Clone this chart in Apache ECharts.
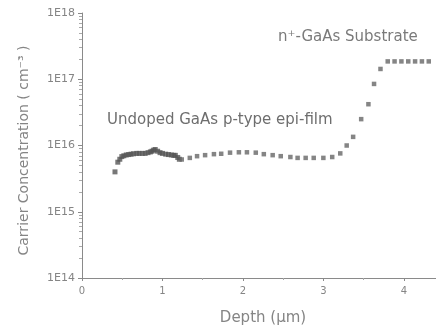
<!DOCTYPE html>
<html>
<head>
<meta charset="utf-8">
<script src="https://cdn.jsdelivr.net/npm/echarts@6/dist/echarts.min.js"></script>
<style>
html,body{margin:0;padding:0;background:#fff;}
#c{width:436px;height:331px;}
</style>
</head>
<body>
<div id="c"></div>
<script>
// Undoped GaAs p-type epi-film (dense measurement)
const depthEpi = [0.41, 0.445, 0.47, 0.495, 0.52, 0.55, 0.58, 0.61, 0.64, 0.68, 0.71, 0.75, 0.785, 0.82, 0.85, 0.87, 0.89, 0.91, 0.94, 0.97, 1.0, 1.04, 1.075, 1.11, 1.14, 1.16, 1.19, 1.21];
const concEpi = [4.0e15, 5.6e15, 6.2e15, 6.8e15, 7.0e15, 7.2e15, 7.3e15, 7.4e15, 7.5e15, 7.6e15, 7.6e15, 7.6e15, 7.6e15, 7.8e15, 8.0e15, 8.2e15, 8.5e15, 8.7e15, 8.2e15, 7.8e15, 7.6e15, 7.4e15, 7.3e15, 7.2e15, 7.1e15, 7.1e15, 6.6e15, 6.2e15];
// deeper profile into substrate
const depthDeep = [1.24, 1.34, 1.43, 1.53, 1.64, 1.73, 1.84, 1.95, 2.05, 2.16, 2.26, 2.37, 2.47, 2.59, 2.68, 2.78, 2.88, 3.0, 3.11, 3.21, 3.29, 3.37, 3.47, 3.56, 3.63, 3.71, 3.80, 3.885, 3.97, 4.055, 4.14, 4.225, 4.31];
const concDeep = [6.15e15, 6.5e15, 6.9e15, 7.15e15, 7.4e15, 7.5e15, 7.8e15, 7.9e15, 7.9e15, 7.8e15, 7.4e15, 7.15e15, 6.9e15, 6.7e15, 6.5e15, 6.5e15, 6.5e15, 6.5e15, 6.7e15, 7.6e15, 1.0e16, 1.35e16, 2.5e16, 4.2e16, 8.5e16, 1.43e17, 1.86e17, 1.86e17, 1.86e17, 1.86e17, 1.86e17, 1.86e17, 1.86e17];
const xTicks = [0, 1, 2, 3, 4];
const yTicks = [1e14, 1e15, 1e16, 1e17, 1e18];
const yTickLabels = ['1E14', '1E15', '1E16', '1E17', '1E18'];
const xAxisTitle = 'Depth (\u00b5m)';
const yAxisTitle = 'Carrier Concentration ( cm\u207b\u00b3 )';
const noteEpi = 'Undoped GaAs p-type epi-film';
const noteSub = 'n\u207a-GaAs Substrate';

const FONT = '"DejaVu Sans", "Liberation Sans", Arial, sans-serif';
const GREY = '#858585';

const chart = echarts.init(document.getElementById('c'), null, {renderer: 'canvas'});
chart.setOption({
  backgroundColor: '#fff',
  animation: false,
  grid: {left: 82, top: 13, right: 0, bottom: 52, containLabel: false},
  xAxis: {
    type: 'value', min: 0, max: 4.4, interval: 1,
    name: xAxisTitle, nameLocation: 'middle', nameGap: 33,
    nameTextStyle: {color: GREY, fontFamily: FONT, fontSize: 15, padding: [0, 0, 0, 8]},
    axisLine: {lineStyle: {color: '#8a8a8a', width: 1}},
    axisTick: {show: true, length: 3, lineStyle: {color: '#8a8a8a'}, customValues: xTicks},
    minorTick: {show: true, splitNumber: 2, length: 2, lineStyle: {color: '#aaa'}},
    axisLabel: {color: GREY, fontFamily: FONT, fontSize: 10, margin: 8, customValues: xTicks, formatter: v => String(v)},
    splitLine: {show: false}
  },
  yAxis: {
    type: 'log', logBase: 10, min: yTicks[0], max: yTicks[yTicks.length - 1],
    name: yAxisTitle, nameLocation: 'middle', nameGap: 51, nameRotate: 90,
    nameTextStyle: {color: GREY, fontFamily: FONT, fontSize: 14, padding: [0, 10, 0, 0]},
    axisLine: {show: true, lineStyle: {color: '#8a8a8a', width: 1}},
    axisTick: {show: true, length: 4, lineStyle: {color: '#8a8a8a'}},
    minorTick: {show: true, splitNumber: 9, length: 3, lineStyle: {color: '#aaa'}},
    axisLabel: {color: GREY, fontFamily: FONT, fontSize: 11, margin: 7,
      formatter: v => { const i = yTicks.findIndex(t => Math.abs(Math.log10(t) - Math.log10(v)) < 1e-6); return i >= 0 ? yTickLabels[i] : ''; }},
    splitLine: {show: false}
  },
  series: [
    {
      type: 'scatter', symbol: 'rect', symbolSize: 5,
      itemStyle: {color: '#555'},
      data: depthEpi.map((d, i) => [d, concEpi[i]])
    },
    {
      type: 'scatter', symbol: 'rect', symbolSize: 4.5,
      itemStyle: {color: '#666'},
      data: depthDeep.map((d, i) => [d, concDeep[i]])
    }
  ],
  graphic: [
    {type: 'text', left: 107, top: 113, style: {text: noteEpi, fill: '#6e6e6e', font: '15px ' + FONT}},
    {type: 'text', left: 278, top: 30, style: {text: noteSub, fill: '#7a7a7a', font: '15px ' + FONT}}
  ]
});
</script>
</body>
</html>
